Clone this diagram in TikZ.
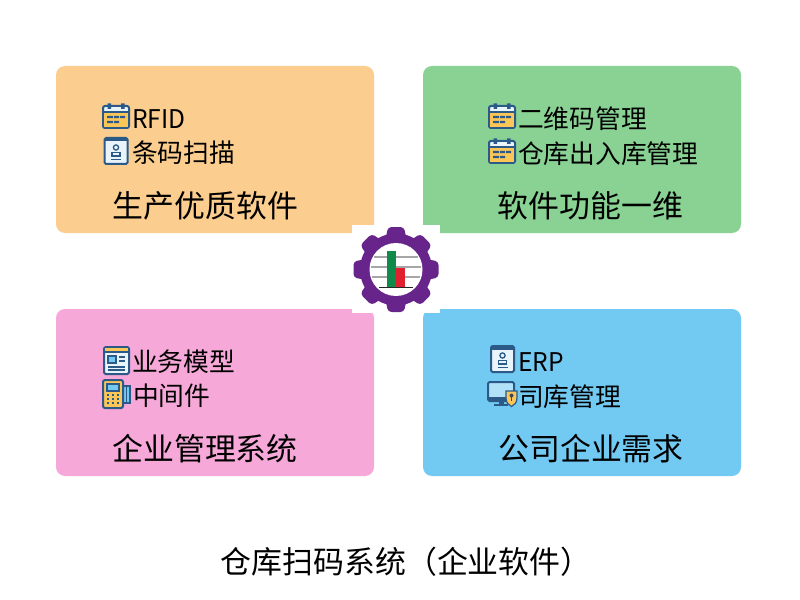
\documentclass[tikz,border=0pt]{standalone}
\usepackage{fontspec}
\setmainfont{Noto Sans CJK SC}
\definecolor{cOrange}{HTML}{FBCD8E}
\definecolor{cGreen}{HTML}{89D294}
\definecolor{cPink}{HTML}{F6A8D8}
\definecolor{cBlue}{HTML}{72CAF2}
\definecolor{iNavy}{HTML}{2C5A88}
\definecolor{iYellow}{HTML}{FBC658}
\definecolor{iPale}{HTML}{E8F3FA}
\definecolor{iDark}{HTML}{3A4A5A}
\definecolor{gearP}{HTML}{67248A}
\definecolor{barG}{HTML}{0F8A4B}
\definecolor{barR}{HTML}{E0202E}
\newcommand{\fpx}[1]{\fontsize{#1bp}{#1bp}\selectfont}
\newcommand{\lat}[1]{\scalebox{0.955}[1]{#1}}
\tikzset{
  x=1bp,y=-1bp,
  card/.style={rounded corners=9bp,draw=none},
  head/.style={font=\fpx{30.9},text=black,inner sep=0,anchor=center},
  item/.style={font=\fpx{25.75},text=black,inner sep=0,anchor=west},
  ln/.style={draw=iNavy,line width=2bp},
  cal/.pic={
    \draw[ln,fill=iPale,rounded corners=2bp] (-13,-11) rectangle (13,11);
    \fill[iYellow] (-12,-5) rectangle (12,10);
    \draw[ln] (-13,-5) -- (13,-5);
    \fill[iNavy] (-8.5,-13.5) rectangle (-5,-8) (5,-13.5) rectangle (8.5,-8);
    \fill[iNavy] (-9,-1.2) rectangle (-3,1.2) (-2,-1.2) rectangle (3,1.2) (4,-1.2) rectangle (9,1.2) (-9,3.8) rectangle (-3,6.2) (-2,3.8) rectangle (3,6.2);
  },
  idc/.pic={
    \draw[ln,fill=iPale,rounded corners=1.5bp] (-11,-13) rectangle (12,13);
    \fill[iNavy] (-11,-13) rectangle (12,-9.5);
    \draw[iNavy,line width=1.3bp] (0.5,-3.5) circle (2.6);
    \draw[iNavy,line width=1.3bp] (-3.5,5) rectangle (4.5,1.5);
    \draw[iNavy,line width=1.3bp] (-4.5,8.5) -- (5.5,8.5);
  },
  news/.pic={
    \draw[ln,fill=iPale,rounded corners=1.5bp] (-12,-13) rectangle (13,14);
    \fill[iYellow] (-11,-12) rectangle (12,-8);
    \draw[ln] (-12,-8) -- (13,-8);
    \fill[cBlue] (-8,-4) rectangle (0,3);
    \draw[iNavy,line width=1.2bp] (-8,-4) rectangle (0,3);
    \draw[iNavy,line width=1.4bp] (3,-3) -- (9,-3) (3,1) -- (9,1) (-8,7) -- (9,7) (-8,10) -- (9,10);
  },
  pos/.pic={
    \draw[ln,fill=cBlue] (7,-8) rectangle (14,9);
    \draw[iNavy,line width=1bp] (10.5,-8) -- (10.5,9);
    \draw[ln,fill=iYellow,rounded corners=2bp] (-13,-14) rectangle (7,14);
    \draw[iNavy,line width=1.2bp,fill=cBlue] (-9,-10) rectangle (3,-3);
    \foreach \yy in {1,5,9} \foreach \xx in {-8,-3,2}
      \fill[iNavy] (\xx-1.4,\yy-1.3) rectangle (\xx+1.4,\yy+1.3);
  },
  moni/.pic={
    \draw[ln,fill=cBlue!55!white,rounded corners=1.5bp] (-14,-12) rectangle (12,7);
    \fill[iNavy] (-13,3) rectangle (11,7);
    \fill[iNavy] (-3,7) rectangle (2,10);
    \draw[ln] (-8,11) -- (6,11);
    \draw[iNavy,line width=1.2bp,fill=iYellow] (4,-3) -- (15,-3) -- (15,4) .. controls (15,9) and (12,11) .. (9.5,12.5) .. controls (7,11) and (4,9) .. (4,4) -- cycle;
    \fill[iDark] (9.5,1.5) circle (2);
    \fill[iDark] (8.7,2.5) rectangle (10.3,7);
  }
}
\begin{document}
\begin{tikzpicture}
\useasboundingbox (0,0) rectangle (800,600);
\fill[white] (0,0) rectangle (800,600);
% cards
\fill[card,cOrange] (56,66) rectangle (374,233);
\fill[card,cGreen] (423,66) rectangle (741,233);
\fill[card,cPink] (56,309) rectangle (374,476);
\fill[card,cBlue] (423,309) rectangle (741,476);
% icons
\pic at (116,117) {cal};
\pic at (115.5,151) {idc};
\pic at (502,117) {cal};
\pic at (502,152) {cal};
\pic at (116,360) {news};
\pic at (116,394) {pos};
\pic at (502,359) {idc};
\pic at (502,394) {moni};
% item text
\node[item] (t1) at (132,119) {\lat{RFID}};
\node[item] (t2) at (132,152.5) {条码扫描};
\node[item] (t3) at (518,118.5) {二维码管理};
\node[item] (t4) at (518,153.5) {仓库出入库管理};
\node[item] (t5) at (132,362) {业务模型};
\node[item] (t6) at (133,396) {中间件};
\node[item] (t7) at (518,362) {\lat{ERP}};
\node[item] (t8) at (518,396.5) {司库管理};
% heads
\node[head] (h1) at (205.5,206) {生产优质软件};
\node[head] (h2) at (590.5,206) {软件功能一维};
\node[head] (h3) at (205,449) {企业管理系统};
\node[head] (h4) at (591,449) {公司企业需求};
\node[head,anchor=west] (h5) at (220.5,562) {仓库扫码系统\makebox[1em][r]{（}企业软件\makebox[1em][l]{）}};
% gear patch
\fill[white] (352,225) rectangle (440,313);
\begin{scope}[shift={(396,269.5)}]
  \foreach \a in {0,45,...,315}
    \fill[gearP,rotate=\a,rounded corners=3.5bp] (-10.5,-30) -- (-8,-42.5) -- (8,-42.5) -- (10.5,-30) -- cycle;
  \fill[gearP] (0,0) circle (36);
  \fill[white] (0,0) circle (26.5);
  \draw[gray!70,line width=1.3bp] (-22,-12.5) -- (22,-12.5) (-25,-2.5) -- (25,-2.5) (-24,7.5) -- (24,7.5);
  \fill[barG] (-9.3,-19) rectangle (0,17.5);
  \fill[barR] (0,-1.5) rectangle (9.3,17.5);
  \draw[black!70!gray,line width=1bp] (-17,17.7) -- (17,17.7);
\end{scope}
\end{tikzpicture}
\end{document}
